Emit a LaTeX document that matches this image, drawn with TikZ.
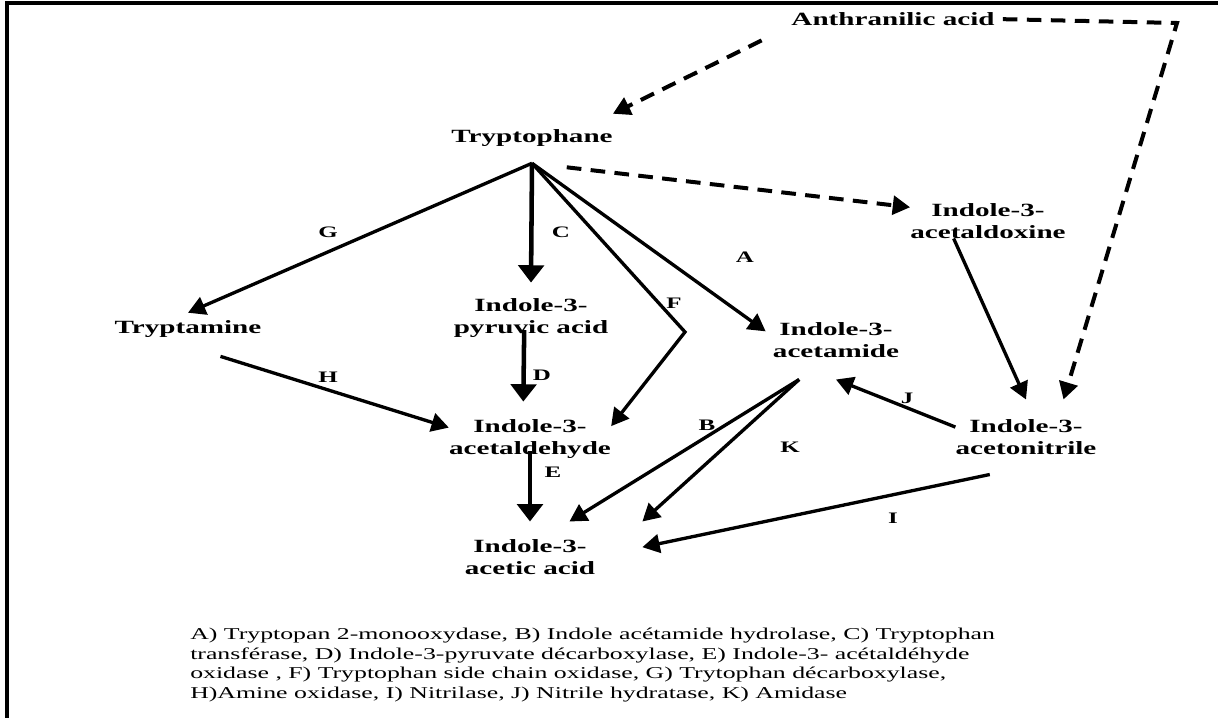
\documentclass[tikz,border=0pt]{standalone}
\usepackage{fontspec}
\setmainfont{Liberation Serif}[FakeStretch=1.56]
\usetikzlibrary{arrows.meta}

\begin{document}
\begin{tikzpicture}[x=0.75pt,y=0.75pt,yscale=-1,xscale=1,
	cmpd/.style={font=\fontsize{14}{16}\selectfont\bfseries, align=center, inner sep=0pt},
	enz/.style={font=\fontsize{12}{14}\selectfont\bfseries, inner sep=0pt},
	arr/.style={line width=2.5pt, -{Triangle[length=13pt,width=14pt]}},
	varr/.style={line width=3.4pt, -{Triangle[length=13pt,width=19pt]}},
	darr/.style={line width=3pt, dash pattern={on 11pt off 7pt}, -{Triangle[length=13pt,width=14pt]}}]
	\useasboundingbox (0,0) rectangle (1218,718);

	%Frame
	\draw [line width=2.6pt]  (1218,3) -- (7,3) -- (7,718) ;

	% Text Node
	\draw (893,19) node (anth) [cmpd] {Anthranilic acid};
	% Text Node
	\draw (532,138.5) node (trp) [cmpd, inner ysep=12pt] {Tryptophane};
	% Text Node
	\draw (988,221) node (oxime) [cmpd] {Indole-3-\\acetaldoxine};
	% Text Node
	\draw (188,329.5) node (tam) [cmpd, inner ysep=6pt] {Tryptamine};
	% Text Node
	\draw (531,318) node (ipa) [cmpd, inner ysep=12pt] {Indole-3-\\pyruvic acid};
	% Text Node
	\draw (836,340) node (iam) [cmpd, inner xsep=5.25pt, inner ysep=16.5pt] {Indole-3-\\acetamide};
	% Text Node
	\draw (530,439) node (iaald) [cmpd, inner ysep=13.5pt] {Indole-3-\\acetaldehyde};
	% Text Node
	\draw (1026,437) node (ian) [cmpd, inner ysep=15pt] {Indole-3-\\acetonitrile};
	% Text Node
	\draw (530,557) node (iaa) [cmpd, inner xsep=35.25pt, inner ysep=13.5pt] {Indole-3-\\acetic acid};

	\coordinate (anth-turn) at (1177,23);
	\coordinate (f-bend) at (685,332);

	%Dashed Lines
	\draw [darr, shorten <=24.75pt]  (anth.south west) -- (trp.north east) ;
	\draw [darr, shorten <=6pt]  (anth.east) -- (anth-turn) -- (ian.45) ;
	\draw [darr, shorten <=26.25pt]  (trp.south) -- (oxime.170) ;

	%Straight Lines
	\draw [arr]  (trp.south) -- (tam.north) ;
	\draw [varr]  (trp.south) -- (ipa.north) ;
	\draw [arr]  (trp.south) -- (f-bend) -- (iaald.9) ;
	\draw [arr]  (trp.south) -- (iam.173) ;
	\draw [arr]  (oxime.-153) -- (ian.north) ;
	\draw [arr, shorten <=25.5pt]  (tam.south) -- (iaald.172) ;
	\draw [varr, shorten <=9pt]  ([xshift=-5pt]ipa.center) -- ([xshift=-5pt]iaald.north) ;
	\draw [varr, shorten <=9pt]  (iaald.center) -- (iaa.north) ;
	\draw [arr]  (iam.-133) -- (iaa.42) ;
	\draw [arr]  (iam.-133) -- (iaa.north east) ;
	\draw [arr]  (ian.172) -- (iam.south) ;
	\draw [arr]  (ian.-134) -- (iaa.5) ;

	% Enzyme letters
	\draw (328,232) node (labG) [enz] {G};
	\draw (561,232) node (labC) [enz] {C};
	\draw (745,257) node (labA) [enz] {A};
	\draw (674,303) node (labF) [enz] {F};
	\draw (542,375) node (labD) [enz] {D};
	\draw (328,377) node (labH) [enz] {H};
	\draw (553,472) node (labE) [enz] {E};
	\draw (707,425) node (labB) [enz] {B};
	\draw (790,447) node (labK) [enz] {K};
	\draw (907,398) node (labJ) [enz] {J};
	\draw (893,518) node (labI) [enz] {I};

	% Text Node
	\draw (190,628) node (key) [anchor=north west, align=left, inner sep=0pt, font=\fontsize{12.4}{14.6}\selectfont] {A) Tryptopan 2-monooxydase, B) Indole acétamide hydrolase, C) Tryptophan\\transférase, D) Indole-3-pyruvate décarboxylase, E) Indole-3- acétaldéhyde\\oxidase , F) Tryptophan side chain oxidase, G) Trytophan décarboxylase,\\H)Amine oxidase, I) Nitrilase, J) Nitrile hydratase, K) Amidase};
\end{tikzpicture}
\end{document}
